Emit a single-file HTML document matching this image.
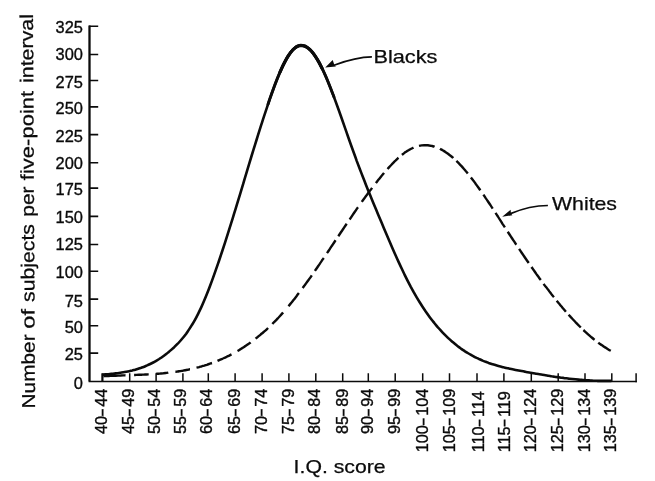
<!DOCTYPE html>
<html><head><meta charset="utf-8"><title>I.Q. score distribution</title>
<style>
html,body{margin:0;padding:0;background:#fff;}
body{width:655px;height:481px;overflow:hidden;}
svg{display:block;}
text{font-family:"Liberation Sans",sans-serif;fill:#0b0b0b;stroke:#0b0b0b;stroke-width:0.25;}
text.tk{stroke-width:0.36;}
</style></head><body>
<svg width="655" height="481" viewBox="0 0 655 481">
<rect width="655" height="481" fill="#fff"/>

<path d="M89.5 25.4V381.3" fill="none" stroke="#0b0b0b" stroke-width="2.3"/>
<path d="M88.6 381.5H636.9" fill="none" stroke="#0b0b0b" stroke-width="1.5"/>
<path d="M89 26.2H98.2M89 54.5H98.2M89 80.5H98.2M89 106.9H98.2M89 134.6H98.2M89 162.7H98.2M89 188.1H98.2M89 216.4H98.2M89 244.5H98.2M89 271.3H98.2M89 299.1H98.2M89 325.8H98.2M89 353.1H98.2" stroke="#0b0b0b" stroke-width="1.6" fill="none"/>
<path d="M129.7 381.8V373.2M156.1 381.8V373.2M182.9 381.8V373.2M208.3 381.8V373.2M235.1 381.8V373.2M262.1 381.8V373.2M288.9 381.8V373.2M315.8 381.8V373.2M342.7 381.8V373.2M368.3 381.8V373.2M395.2 381.8V373.2M422.7 381.8V373.2M449.5 381.8V373.2M477.0 381.8V373.2M503.9 381.8V373.2M531.3 381.8V373.2M558.2 381.8V373.2M585.0 381.8V373.2M611.8 381.8V373.2M636.1 382.2V373.2" stroke="#0b0b0b" stroke-width="1.5" fill="none"/>
<path d="M102.4 381.8V373.3" stroke="#0b0b0b" stroke-width="2.2" fill="none"/>
<text transform="translate(82.9 33.0) scale(0.955 1)" font-size="17.2" class="tk" text-anchor="end">325</text>
<text transform="translate(82.9 60.0) scale(0.955 1)" font-size="17.2" class="tk" text-anchor="end">300</text>
<text transform="translate(82.9 87.5) scale(0.955 1)" font-size="17.2" class="tk" text-anchor="end">275</text>
<text transform="translate(82.9 114.0) scale(0.955 1)" font-size="17.2" class="tk" text-anchor="end">250</text>
<text transform="translate(82.9 142.2) scale(0.955 1)" font-size="17.2" class="tk" text-anchor="end">225</text>
<text transform="translate(82.9 168.9) scale(0.955 1)" font-size="17.2" class="tk" text-anchor="end">200</text>
<text transform="translate(82.9 194.7) scale(0.955 1)" font-size="17.2" class="tk" text-anchor="end">175</text>
<text transform="translate(82.9 222.7) scale(0.955 1)" font-size="17.2" class="tk" text-anchor="end">150</text>
<text transform="translate(82.9 249.5) scale(0.955 1)" font-size="17.2" class="tk" text-anchor="end">125</text>
<text transform="translate(82.9 277.8) scale(0.955 1)" font-size="17.2" class="tk" text-anchor="end">100</text>
<text transform="translate(82.9 306.7) scale(0.955 1)" font-size="17.2" class="tk" text-anchor="end">75</text>
<text transform="translate(82.9 333.2) scale(0.955 1)" font-size="17.2" class="tk" text-anchor="end">50</text>
<text transform="translate(82.9 359.9) scale(0.955 1)" font-size="17.2" class="tk" text-anchor="end">25</text>
<text transform="translate(82.9 388.5) scale(0.955 1)" font-size="17.2" class="tk" text-anchor="end">0</text>
<text transform="translate(106.8 434.1) rotate(-90) scale(1.035 1)" font-size="15.7" class="tk">40<tspan font-size="13" font-weight="bold" dx="-0.3" dy="-1.1">–</tspan><tspan dx="2.1" dy="1.1">44</tspan></text>
<text transform="translate(133.7 434.1) rotate(-90) scale(1.035 1)" font-size="15.7" class="tk">45<tspan font-size="13" font-weight="bold" dx="-0.3" dy="-1.1">–</tspan><tspan dx="2.1" dy="1.1">49</tspan></text>
<text transform="translate(159.6 434.1) rotate(-90) scale(1.035 1)" font-size="15.7" class="tk">50<tspan font-size="13" font-weight="bold" dx="-0.3" dy="-1.1">–</tspan><tspan dx="2.1" dy="1.1">54</tspan></text>
<text transform="translate(186.2 434.1) rotate(-90) scale(1.035 1)" font-size="15.7" class="tk">55<tspan font-size="13" font-weight="bold" dx="-0.3" dy="-1.1">–</tspan><tspan dx="2.1" dy="1.1">59</tspan></text>
<text transform="translate(212.1 434.1) rotate(-90) scale(1.035 1)" font-size="15.7" class="tk">60<tspan font-size="13" font-weight="bold" dx="-0.3" dy="-1.1">–</tspan><tspan dx="2.1" dy="1.1">64</tspan></text>
<text transform="translate(239.6 434.1) rotate(-90) scale(1.035 1)" font-size="15.7" class="tk">65<tspan font-size="13" font-weight="bold" dx="-0.3" dy="-1.1">–</tspan><tspan dx="2.1" dy="1.1">69</tspan></text>
<text transform="translate(266.5 434.1) rotate(-90) scale(1.035 1)" font-size="15.7" class="tk">70<tspan font-size="13" font-weight="bold" dx="-0.3" dy="-1.1">–</tspan><tspan dx="2.1" dy="1.1">74</tspan></text>
<text transform="translate(293.9 434.1) rotate(-90) scale(1.035 1)" font-size="15.7" class="tk">75<tspan font-size="13" font-weight="bold" dx="-0.3" dy="-1.1">–</tspan><tspan dx="2.1" dy="1.1">79</tspan></text>
<text transform="translate(320.2 434.1) rotate(-90) scale(1.035 1)" font-size="15.7" class="tk">80<tspan font-size="13" font-weight="bold" dx="-0.3" dy="-1.1">–</tspan><tspan dx="2.1" dy="1.1">84</tspan></text>
<text transform="translate(347.7 434.1) rotate(-90) scale(1.035 1)" font-size="15.7" class="tk">85<tspan font-size="13" font-weight="bold" dx="-0.3" dy="-1.1">–</tspan><tspan dx="2.1" dy="1.1">89</tspan></text>
<text transform="translate(373.3 434.1) rotate(-90) scale(1.035 1)" font-size="15.7" class="tk">90<tspan font-size="13" font-weight="bold" dx="-0.3" dy="-1.1">–</tspan><tspan dx="2.1" dy="1.1">94</tspan></text>
<text transform="translate(399.6 434.1) rotate(-90) scale(1.035 1)" font-size="15.7" class="tk">95<tspan font-size="13" font-weight="bold" dx="-0.3" dy="-1.1">–</tspan><tspan dx="2.1" dy="1.1">99</tspan></text>
<text transform="translate(427.7 452.3) rotate(-90) scale(1.035 1)" font-size="15.7" class="tk">100<tspan font-size="13" font-weight="bold" dx="-0.3" dy="-1.1">–</tspan><tspan dx="2.1" dy="1.1">104</tspan></text>
<text transform="translate(454.5 452.3) rotate(-90) scale(1.035 1)" font-size="15.7" class="tk">105<tspan font-size="13" font-weight="bold" dx="-0.3" dy="-1.1">–</tspan><tspan dx="2.1" dy="1.1">109</tspan></text>
<text transform="translate(483.8 452.3) rotate(-90) scale(1.035 1)" font-size="15.7" class="tk">110<tspan font-size="13" font-weight="bold" dx="-0.3" dy="-1.1">–</tspan><tspan dx="2.1" dy="1.1">114</tspan></text>
<text transform="translate(509.5 452.3) rotate(-90) scale(1.035 1)" font-size="15.7" class="tk">115<tspan font-size="13" font-weight="bold" dx="-0.3" dy="-1.1">–</tspan><tspan dx="2.1" dy="1.1">119</tspan></text>
<text transform="translate(536.3 452.3) rotate(-90) scale(1.035 1)" font-size="15.7" class="tk">120<tspan font-size="13" font-weight="bold" dx="-0.3" dy="-1.1">–</tspan><tspan dx="2.1" dy="1.1">124</tspan></text>
<text transform="translate(563.2 452.3) rotate(-90) scale(1.035 1)" font-size="15.7" class="tk">125<tspan font-size="13" font-weight="bold" dx="-0.3" dy="-1.1">–</tspan><tspan dx="2.1" dy="1.1">129</tspan></text>
<text transform="translate(589.8 452.3) rotate(-90) scale(1.035 1)" font-size="15.7" class="tk">130<tspan font-size="13" font-weight="bold" dx="-0.3" dy="-1.1">–</tspan><tspan dx="2.1" dy="1.1">134</tspan></text>
<text transform="translate(615.7 452.3) rotate(-90) scale(1.035 1)" font-size="15.7" class="tk">135<tspan font-size="13" font-weight="bold" dx="-0.3" dy="-1.1">–</tspan><tspan dx="2.1" dy="1.1">139</tspan></text>
<text transform="translate(35.00 408.40) rotate(-90.3)" font-size="18.6" textLength="74.00" lengthAdjust="spacingAndGlyphs">Number</text>
<text transform="translate(34.58 328.80) rotate(-90.3)" font-size="18.6" textLength="19.80" lengthAdjust="spacingAndGlyphs">of</text>
<text transform="translate(34.44 302.00) rotate(-90.3)" font-size="18.6" textLength="78.00" lengthAdjust="spacingAndGlyphs">subjects</text>
<text transform="translate(33.99 216.80) rotate(-90.3)" font-size="18.6" textLength="30.40" lengthAdjust="spacingAndGlyphs">per</text>
<text transform="translate(33.80 180.20) rotate(-90.3)" font-size="18.6" textLength="89.40" lengthAdjust="spacingAndGlyphs">five-point</text>
<text transform="translate(33.29 83.00) rotate(-90.3)" font-size="18.6" textLength="69.00" lengthAdjust="spacingAndGlyphs">interval</text>
<text x="293.6" y="472.6" font-size="18.6" textLength="92" lengthAdjust="spacingAndGlyphs">I.Q. score</text>
<text x="373.4" y="62.8" font-size="18.6" textLength="64" lengthAdjust="spacingAndGlyphs">Blacks</text>
<text x="552" y="209.8" font-size="18.6" textLength="65" lengthAdjust="spacingAndGlyphs">Whites</text>
<path d="M371.9 56.9C360 57 348 60 334 65.2" fill="none" stroke="#0b0b0b" stroke-width="1.7"/>
<path d="M325.2 67.5L332.7 60.1L334.2 64.6L335.9 66.6Z" fill="#0b0b0b"/>
<path d="M547.9 205.5C536 205.6 524 208 510.5 213.6" fill="none" stroke="#0b0b0b" stroke-width="1.7"/>
<path d="M502.2 216.8L510.6 209.7L511 213.4L512.4 215.2Z" fill="#0b0b0b"/>
<path d="M102.3 374.6C102.8 374.6 104.3 374.5 105.3 374.4C106.3 374.3 107.3 374.2 108.3 374.2C109.3 374.1 110.3 374.0 111.3 373.9C112.3 373.8 113.3 373.7 114.3 373.6C115.3 373.5 116.3 373.3 117.3 373.2C118.3 373.1 119.3 373.0 120.3 372.8C121.3 372.7 122.3 372.5 123.3 372.3C124.3 372.2 125.3 372.0 126.3 371.8C127.3 371.6 128.3 371.4 129.3 371.2C130.3 371.0 131.2 370.7 132.2 370.5C133.2 370.2 134.2 370.0 135.2 369.7C136.2 369.4 137.2 369.1 138.2 368.8C139.2 368.5 140.2 368.1 141.2 367.8C142.2 367.4 143.2 367.1 144.2 366.7C145.2 366.3 146.2 365.8 147.2 365.4C148.2 365.0 149.2 364.5 150.2 364.0C151.2 363.5 152.2 363.0 153.2 362.5C154.2 362.0 155.2 361.4 156.2 360.8C157.2 360.2 158.2 359.6 159.2 359.0C160.2 358.3 161.2 357.7 162.2 357.0C163.2 356.3 164.2 355.6 165.2 354.8C166.2 354.0 167.2 353.3 168.2 352.4C169.2 351.6 170.2 350.8 171.2 349.9C172.2 349.0 173.2 348.1 174.2 347.2C175.2 346.2 176.2 345.2 177.2 344.2C178.2 343.2 179.2 342.1 180.2 341.0C181.2 339.9 182.2 338.7 183.2 337.5C184.2 336.3 185.2 335.0 186.2 333.7C187.1 332.3 188.1 330.9 189.1 329.4C190.1 327.9 191.1 326.4 192.1 324.7C193.1 323.1 194.1 321.4 195.1 319.6C196.1 317.8 197.1 315.8 198.1 313.8C199.1 311.8 200.1 309.7 201.1 307.6C202.1 305.4 203.1 303.1 204.1 300.7C205.1 298.4 206.1 296.0 207.1 293.5C208.1 291.0 209.1 288.4 210.1 285.7C211.1 283.1 212.1 280.4 213.1 277.6C214.1 274.9 215.1 272.1 216.1 269.2C217.1 266.4 218.1 263.4 219.1 260.5C220.1 257.5 221.1 254.5 222.1 251.5C223.1 248.5 224.1 245.4 225.1 242.3C226.1 239.2 227.1 236.1 228.1 232.9C229.1 229.8 230.1 226.6 231.1 223.4C232.1 220.2 233.1 216.9 234.1 213.7C235.1 210.4 236.1 207.2 237.1 203.9C238.1 200.6 239.1 197.3 240.1 194.1C241.1 190.8 242.1 187.5 243.1 184.2C244.0 180.9 245.0 177.6 246.0 174.3C247.0 171.0 248.0 167.7 249.0 164.4C250.0 161.1 251.0 157.8 252.0 154.5C253.0 151.3 254.0 148.0 255.0 144.8C256.0 141.6 257.0 138.4 258.0 135.2C259.0 132.0 260.0 128.8 261.0 125.7C262.0 122.6 263.0 119.4 264.0 116.4C265.0 113.3 266.0 110.3 267.0 107.3C268.0 104.3 269.0 101.3 270.0 98.4C271.0 95.6 272.0 92.7 273.0 90.0C274.0 87.2 275.0 84.5 276.0 82.0C277.0 79.4 278.0 76.9 279.0 74.5C280.0 72.1 281.0 69.8 282.0 67.7C283.0 65.5 284.0 63.5 285.0 61.6C286.0 59.7 287.0 57.9 288.0 56.3C289.0 54.8 290.0 53.3 291.0 52.0C292.0 50.8 293.0 49.7 294.0 48.8C295.0 47.8 296.0 47.1 297.0 46.6C298.0 46.0 299.0 45.7 300.0 45.5C300.9 45.4 301.9 45.4 302.9 45.6C303.9 45.8 304.9 46.1 305.9 46.7C306.9 47.2 307.9 47.9 308.9 48.8C309.9 49.6 310.9 50.6 311.9 51.8C312.9 53.0 313.9 54.3 314.9 55.7C315.9 57.2 316.9 58.8 317.9 60.5C318.9 62.2 319.9 64.1 320.9 66.1C321.9 68.0 322.9 70.1 323.9 72.3C324.9 74.4 325.9 76.7 326.9 79.1C327.9 81.4 328.9 83.9 329.9 86.4C330.9 88.9 331.9 91.5 332.9 94.1C333.9 96.8 334.9 99.5 335.9 102.2C336.9 104.9 337.9 107.7 338.9 110.5C339.9 113.3 340.9 116.2 341.9 119.0C342.9 121.9 343.9 124.8 344.9 127.6C345.9 130.5 346.9 133.3 347.9 136.2C348.9 139.0 349.9 141.9 350.9 144.7C351.9 147.5 352.9 150.3 353.9 153.0C354.9 155.7 355.9 158.4 356.8 161.1C357.8 163.8 358.8 166.4 359.8 169.0C360.8 171.6 361.8 174.2 362.8 176.8C363.8 179.3 364.8 181.9 365.8 184.4C366.8 186.9 367.8 189.4 368.8 191.9C369.8 194.3 370.8 196.8 371.8 199.2C372.8 201.7 373.8 204.1 374.8 206.5C375.8 208.9 376.8 211.3 377.8 213.7C378.8 216.0 379.8 218.4 380.8 220.8C381.8 223.1 382.8 225.5 383.8 227.9C384.8 230.2 385.8 232.6 386.8 234.9C387.8 237.3 388.8 239.6 389.8 241.9C390.8 244.3 391.8 246.6 392.8 248.9C393.8 251.2 394.8 253.5 395.8 255.7C396.8 258.0 397.8 260.2 398.8 262.4C399.8 264.6 400.8 266.7 401.8 268.8C402.8 271.0 403.8 273.0 404.8 275.1C405.8 277.1 406.8 279.1 407.8 281.1C408.8 283.0 409.8 284.9 410.8 286.8C411.8 288.6 412.8 290.4 413.7 292.2C414.7 294.0 415.7 295.7 416.7 297.4C417.7 299.1 418.7 300.7 419.7 302.3C420.7 303.9 421.7 305.5 422.7 307.0C423.7 308.5 424.7 310.0 425.7 311.5C426.7 312.9 427.7 314.3 428.7 315.7C429.7 317.1 430.7 318.4 431.7 319.7C432.7 321.0 433.7 322.2 434.7 323.5C435.7 324.7 436.7 325.9 437.7 327.1C438.7 328.2 439.7 329.3 440.7 330.4C441.7 331.5 442.7 332.6 443.7 333.6C444.7 334.7 445.7 335.7 446.7 336.6C447.7 337.6 448.7 338.5 449.7 339.4C450.7 340.4 451.7 341.2 452.7 342.1C453.7 342.9 454.7 343.8 455.7 344.6C456.7 345.4 457.7 346.1 458.7 346.9C459.7 347.6 460.7 348.4 461.7 349.1C462.7 349.8 463.7 350.4 464.7 351.1C465.7 351.7 466.7 352.4 467.7 353.0C468.7 353.6 469.7 354.2 470.6 354.7C471.6 355.3 472.6 355.8 473.6 356.3C474.6 356.9 475.6 357.4 476.6 357.9C477.6 358.3 478.6 358.8 479.6 359.3C480.6 359.7 481.6 360.1 482.6 360.6C483.6 361.0 484.6 361.4 485.6 361.7C486.6 362.1 487.6 362.5 488.6 362.9C489.6 363.2 490.6 363.6 491.6 363.9C492.6 364.2 493.6 364.5 494.6 364.8C495.6 365.1 496.6 365.4 497.6 365.7C498.6 366.0 499.6 366.3 500.6 366.5C501.6 366.8 502.6 367.0 503.6 367.3C504.6 367.5 505.6 367.8 506.6 368.0C507.6 368.2 508.6 368.5 509.6 368.7C510.6 368.9 511.6 369.1 512.6 369.3C513.6 369.5 514.6 369.7 515.6 369.9C516.6 370.1 517.6 370.3 518.6 370.5C519.6 370.7 520.6 370.9 521.6 371.1C522.6 371.3 523.6 371.5 524.6 371.6C525.6 371.8 526.5 372.0 527.5 372.2C528.5 372.4 529.5 372.6 530.5 372.7C531.5 372.9 532.5 373.1 533.5 373.3C534.5 373.5 535.5 373.6 536.5 373.8C537.5 374.0 538.5 374.2 539.5 374.3C540.5 374.5 541.5 374.7 542.5 374.8C543.5 375.0 544.5 375.2 545.5 375.3C546.5 375.5 547.5 375.6 548.5 375.8C549.5 376.0 550.5 376.1 551.5 376.3C552.5 376.4 553.5 376.6 554.5 376.7C555.5 376.9 556.5 377.0 557.5 377.1C558.5 377.3 559.5 377.4 560.5 377.6C561.5 377.7 562.5 377.8 563.5 377.9C564.5 378.1 565.5 378.2 566.5 378.3C567.5 378.4 568.5 378.6 569.5 378.7C570.5 378.8 571.5 378.9 572.5 379.0C573.5 379.1 574.5 379.2 575.5 379.3C576.5 379.4 577.5 379.5 578.5 379.6C579.5 379.7 580.5 379.8 581.5 379.9C582.5 380.0 583.4 380.0 584.4 380.1C585.4 380.2 586.4 380.3 587.4 380.3C588.4 380.4 589.4 380.4 590.4 380.5C591.4 380.6 592.4 380.6 593.4 380.7C594.4 380.7 595.4 380.8 596.4 380.8C597.4 380.8 598.4 380.9 599.4 380.9C600.4 380.9 601.4 380.9 602.4 380.9C603.4 380.9 604.4 380.9 605.4 380.9C606.4 380.9 607.4 380.9 608.4 380.9C609.4 380.9 610.9 380.9 611.4 380.9" fill="none" stroke="#0b0b0b" stroke-width="2.6" stroke-linejoin="round"/>
<path d="M268.0 104.3C268.5 102.9 270.0 98.4 271.0 95.6C272.0 92.7 273.0 89.9 274.0 87.2C275.0 84.5 276.0 81.9 277.0 79.4C278.0 76.9 279.0 74.4 280.0 72.1C281.0 69.8 282.0 67.6 283.0 65.5C284.0 63.4 285.0 61.5 286.0 59.7C287.0 57.9 288.0 56.2 289.0 54.8C290.0 53.3 291.0 51.9 292.0 50.8C293.0 49.6 294.0 48.7 295.0 47.9C296.0 47.1 297.0 46.5 298.0 46.1C299.0 45.7 300.0 45.5 301.0 45.4C302.0 45.4 303.0 45.5 304.0 45.9C305.0 46.2 306.0 46.7 307.0 47.3C308.0 47.9 309.0 48.8 310.0 49.7C311.0 50.7 312.0 51.8 313.0 53.1C314.0 54.4 315.0 55.8 316.0 57.4C317.0 58.9 318.0 60.6 319.0 62.4C320.0 64.2 321.0 66.2 322.0 68.2C323.0 70.3 324.0 72.4 325.0 74.7C326.0 76.9 327.0 79.3 328.0 81.7C329.0 84.1 330.0 86.6 331.0 89.2C332.0 91.8 333.5 95.8 334.0 97.1" fill="none" stroke="#0b0b0b" stroke-width="2.9" stroke-linecap="round"/>
<path d="M280.0 72.1C280.5 71.0 282.0 67.6 283.0 65.5C284.0 63.4 285.0 61.5 286.0 59.7C287.0 57.9 288.0 56.2 289.0 54.8C290.0 53.3 291.0 51.9 292.0 50.8C293.0 49.6 294.0 48.7 295.0 47.9C296.0 47.1 297.0 46.5 298.0 46.1C299.0 45.7 300.0 45.5 301.0 45.4C302.0 45.4 303.0 45.5 304.0 45.9C305.0 46.2 306.0 46.7 307.0 47.3C308.0 47.9 309.0 48.8 310.0 49.7C311.0 50.7 312.0 51.8 313.0 53.1C314.0 54.4 315.0 55.8 316.0 57.4C317.0 58.9 318.0 60.6 319.0 62.4C320.0 64.2 321.5 67.3 322.0 68.2" fill="none" stroke="#0b0b0b" stroke-width="3.2" stroke-linecap="round"/>
<path d="M103.5 376.2C103.9 376.2 105.1 376.1 105.9 376.1C106.8 376.0 107.6 376.0 108.4 376.0C109.2 375.9 110.0 375.9 110.8 375.9C111.6 375.8 112.5 375.8 113.3 375.7C114.1 375.7 114.9 375.7 115.7 375.7C116.5 375.6 117.4 375.6 118.2 375.6C119.0 375.5 119.8 375.5 120.6 375.5C121.4 375.4 122.2 375.4 123.1 375.4C123.9 375.4 125.1 375.3 125.5 375.3M134.1 375.0C134.5 375.0 135.7 374.9 136.5 374.9C137.3 374.9 138.2 374.9 139.0 374.8C139.8 374.8 140.6 374.8 141.4 374.7C142.2 374.7 143.0 374.6 143.8 374.6C144.6 374.6 145.5 374.5 146.3 374.5C147.1 374.4 148.3 374.4 148.7 374.4M156.0 373.9C156.4 373.8 157.6 373.8 158.5 373.7C159.3 373.6 160.1 373.6 160.9 373.5C161.7 373.4 162.6 373.3 163.4 373.3C164.2 373.2 165.0 373.1 165.8 373.0C166.7 372.9 167.9 372.8 168.3 372.7M175.4 371.8C175.8 371.8 177.0 371.6 177.8 371.5C178.6 371.4 179.5 371.2 180.3 371.1C181.1 371.0 181.9 370.8 182.7 370.7C183.5 370.5 184.3 370.4 185.1 370.2C185.9 370.1 186.8 369.9 187.6 369.8C188.4 369.6 189.6 369.3 190.0 369.3M196.5 367.7C196.9 367.6 198.2 367.3 199.1 367.1C199.9 366.8 200.8 366.6 201.7 366.3C202.5 366.1 203.4 365.8 204.2 365.6C205.1 365.3 206.0 365.0 206.8 364.8C207.7 364.5 208.6 364.2 209.4 363.9C210.3 363.6 211.6 363.1 212.0 363.0M217.5 360.9C217.9 360.7 219.1 360.2 219.8 359.9C220.6 359.6 221.4 359.2 222.2 358.9C222.9 358.5 223.7 358.2 224.5 357.8C225.3 357.5 226.1 357.1 226.8 356.7C227.6 356.3 228.4 356.0 229.2 355.6C229.9 355.2 231.1 354.6 231.5 354.4M237.5 351.0C237.9 350.8 239.2 350.0 240.1 349.4C241.0 348.9 241.9 348.4 242.7 347.8C243.6 347.2 244.5 346.7 245.4 346.1C246.2 345.5 247.1 344.9 248.0 344.3C248.9 343.7 250.2 342.8 250.6 342.4M255.6 338.7C256.0 338.3 257.3 337.4 258.1 336.7C258.9 336.0 259.8 335.3 260.6 334.6C261.4 333.9 262.3 333.2 263.1 332.5C263.9 331.8 264.8 331.0 265.6 330.3C266.4 329.5 267.7 328.4 268.1 328.0M272.4 323.9C272.8 323.4 274.2 322.1 275.1 321.2C276.0 320.3 276.9 319.3 277.8 318.4C278.6 317.4 279.5 316.5 280.4 315.5C281.3 314.5 282.7 313.0 283.1 312.5M288.5 306.2C288.9 305.7 290.2 304.1 291.1 303.0C292.0 302.0 292.8 300.9 293.7 299.8C294.6 298.7 295.4 297.6 296.3 296.5C297.2 295.3 298.5 293.6 298.9 293.1M302.6 288.1C303.0 287.6 304.1 286.0 304.9 285.0C305.7 283.9 306.4 282.9 307.2 281.8C308.0 280.7 308.7 279.7 309.5 278.6C310.3 277.5 311.4 275.9 311.8 275.3M314.9 270.9C315.3 270.3 316.4 268.7 317.1 267.7C317.9 266.6 318.6 265.5 319.4 264.4C320.1 263.3 320.8 262.2 321.6 261.1C322.3 260.1 323.4 258.4 323.8 257.9M327.0 253.1C327.5 252.4 328.9 250.3 329.9 248.8C330.8 247.4 331.8 246.0 332.7 244.6C333.7 243.1 335.1 241.0 335.6 240.3M338.3 236.2C338.8 235.5 340.2 233.4 341.1 232.0C342.0 230.6 343.0 229.3 343.9 227.9C344.8 226.5 346.2 224.4 346.7 223.7M349.6 219.4C350.1 218.8 351.5 216.7 352.4 215.3C353.3 214.0 354.3 212.6 355.2 211.3C356.1 209.9 357.5 207.9 358.0 207.3M361.8 201.9C362.2 201.3 363.5 199.5 364.4 198.3C365.2 197.1 366.1 195.9 367.0 194.8C367.8 193.6 368.7 192.5 369.5 191.3C370.4 190.2 371.7 188.5 372.1 187.9M375.8 183.1C376.3 182.5 377.6 180.8 378.6 179.6C379.5 178.5 380.4 177.3 381.3 176.2C382.3 175.1 383.6 173.5 384.1 172.9M387.5 169.0C388.0 168.5 389.3 167.0 390.2 166.0C391.2 165.0 392.1 164.0 393.0 163.1C393.9 162.2 394.8 161.2 395.8 160.4C396.7 159.5 398.0 158.2 398.5 157.8M401.9 154.9C402.3 154.6 403.4 153.7 404.2 153.1C405.0 152.5 405.8 152.0 406.5 151.5C407.3 150.9 408.1 150.5 408.9 150.0C409.6 149.5 410.4 149.1 411.2 148.7C412.0 148.3 413.1 147.8 413.5 147.6M419.0 145.9C419.4 145.8 420.7 145.5 421.6 145.4C422.5 145.3 423.3 145.2 424.2 145.2C425.1 145.2 425.9 145.2 426.8 145.2C427.7 145.3 428.5 145.3 429.4 145.5C430.3 145.6 431.1 145.8 432.0 146.0C432.9 146.2 434.2 146.5 434.6 146.7M440.0 148.8C440.4 149.1 441.8 149.7 442.7 150.3C443.5 150.8 444.4 151.3 445.3 151.9C446.2 152.5 447.1 153.1 448.0 153.7C448.9 154.4 449.8 155.1 450.6 155.8C451.5 156.5 452.9 157.6 453.3 158.0M456.4 160.9C456.8 161.3 457.9 162.4 458.7 163.2C459.4 163.9 460.2 164.8 461.0 165.6C461.7 166.4 462.5 167.2 463.2 168.1C464.0 169.0 464.8 169.8 465.5 170.7C466.3 171.6 467.4 173.0 467.8 173.5M470.9 177.4C471.3 177.9 472.5 179.4 473.3 180.5C474.1 181.5 474.9 182.6 475.6 183.7C476.4 184.8 477.2 185.9 478.0 187.0C478.8 188.1 480.0 189.8 480.4 190.3M483.4 194.6C483.8 195.2 484.9 196.9 485.7 198.1C486.5 199.2 487.3 200.4 488.0 201.5C488.8 202.7 489.6 203.9 490.4 205.0C491.1 206.2 492.3 208.0 492.7 208.6M495.5 212.9C495.9 213.5 497.1 215.3 497.9 216.5C498.6 217.7 499.4 218.9 500.2 220.1C501.0 221.3 501.8 222.6 502.5 223.8C503.3 225.0 504.5 226.8 504.9 227.4M507.7 231.7C508.2 232.4 509.6 234.6 510.6 236.1C511.5 237.5 512.5 239.0 513.4 240.4C514.4 241.9 515.8 244.0 516.3 244.7M519.1 248.9C519.5 249.5 520.7 251.3 521.5 252.5C522.3 253.7 523.1 254.9 523.9 256.0C524.7 257.2 525.5 258.4 526.3 259.5C527.1 260.7 528.3 262.4 528.7 263.0M531.5 267.0C531.9 267.6 533.1 269.2 533.8 270.3C534.6 271.4 535.4 272.5 536.1 273.6C536.9 274.7 537.7 275.7 538.5 276.8C539.2 277.9 540.4 279.5 540.8 280.0M543.6 283.8C544.0 284.4 545.3 286.1 546.2 287.2C547.0 288.4 547.9 289.5 548.8 290.6C549.6 291.7 550.5 292.8 551.3 293.9C552.2 295.0 553.5 296.7 553.9 297.2M556.7 300.7C557.1 301.2 558.2 302.6 559.0 303.5C559.8 304.4 560.5 305.4 561.3 306.3C562.1 307.2 562.8 308.1 563.6 309.0C564.4 309.9 565.5 311.2 565.9 311.7M568.6 314.7C569.0 315.2 570.2 316.5 571.0 317.4C571.9 318.3 572.7 319.2 573.5 320.0C574.3 320.9 575.1 321.7 575.9 322.6C576.7 323.4 577.5 324.3 578.4 325.1C579.2 325.9 580.4 327.1 580.8 327.5M583.4 330.0C583.9 330.4 585.3 331.8 586.2 332.6C587.1 333.5 588.1 334.3 589.0 335.1C589.9 335.9 590.9 336.7 591.8 337.5C592.7 338.3 594.1 339.4 594.6 339.8M598.3 342.6C598.7 343.0 600.0 343.9 600.8 344.5C601.6 345.1 602.5 345.6 603.3 346.2C604.1 346.8 605.0 347.3 605.8 347.8C606.6 348.4 607.5 348.9 608.3 349.4C609.1 349.9 610.4 350.6 610.8 350.8" fill="none" stroke="#0b0b0b" stroke-width="2.4"/>
</svg></body></html>
